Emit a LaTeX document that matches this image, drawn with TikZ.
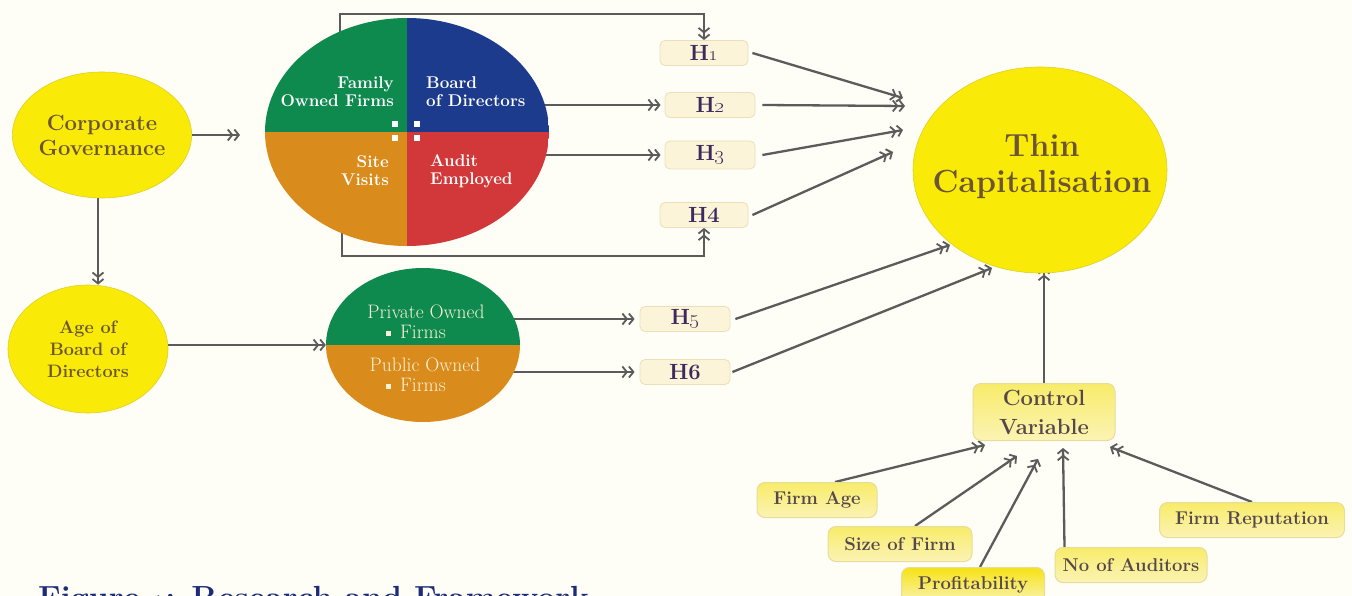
\documentclass[tikz,border=0pt]{standalone}
\usetikzlibrary{arrows.meta,shapes.geometric,backgrounds}
\definecolor{bgc}{HTML}{FEFEF7}
\definecolor{yel}{HTML}{F9EA07}
\definecolor{yelb}{HTML}{E0CF2A}
\definecolor{brn}{HTML}{6B5535}
\definecolor{qgreen}{HTML}{0F8A4F}
\definecolor{qblue}{HTML}{1D3B8D}
\definecolor{qorange}{HTML}{D98B1C}
\definecolor{qred}{HTML}{D2383A}
\definecolor{hfill}{HTML}{FCF4D8}
\definecolor{hdraw}{HTML}{EADFB8}
\definecolor{htext}{HTML}{3B2A5C}
\definecolor{lineg}{HTML}{5B5B5B}
\definecolor{cvtop}{HTML}{F8EC6A}
\definecolor{cvbot}{HTML}{FBF3B4}
\definecolor{prtop}{HTML}{F6E214}
\definecolor{cvdraw}{HTML}{E8DC9A}
\definecolor{cvtext}{HTML}{56474A}
\definecolor{titleblue}{HTML}{1E2C78}
\definecolor{owntext}{HTML}{F8F2D6}
\tikzset{
  dbl/.tip={Straight Barb[length=4.5pt,width=11pt,line width=1.8pt] Straight Barb[length=4.5pt,width=11pt,line width=1.8pt]},
  conn/.style={draw=lineg, line width=2.3pt, -{dbl}},
  yellipse/.style={ellipse, fill=yel, draw=yelb, line width=0.6pt, text=brn, align=center, inner sep=0pt},
  hbox/.style={rounded corners=5pt, fill=hfill, draw=hdraw, line width=0.8pt, text=htext,
    minimum height=25pt, font=\fontsize{22}{24}\selectfont\bfseries, inner sep=0pt},
  cvbox/.style={rounded corners=8pt, top color=cvtop, bottom color=cvbot, draw=cvdraw, line width=1pt,
    text=cvtext, font=\fontsize{18.5}{20}\selectfont\bfseries, inner sep=0pt, minimum height=35pt},
  qtext/.style={text=white, font=\fontsize{17}{18}\selectfont\bfseries, inner sep=0pt},
  otext/.style={text=owntext, font=\fontsize{19.5}{20}\selectfont, inner sep=0pt},
}
\begin{document}
\begin{tikzpicture}[x=1pt,y=-1pt]
\useasboundingbox (0,0) rectangle (1352,596);
\clip (0,0) rectangle (1352,596);

% ---------- nodes ----------
\node[yellipse, minimum width=158pt, minimum height=126pt, font=\fontsize{22}{25}\selectfont\bfseries] (cg) at (102,135) {Corporate\\Governance};
\node[yellipse, minimum width=160pt, minimum height=128pt, font=\fontsize{18}{22}\selectfont\bfseries] (abd) at (88,349) {Age of\\Board of\\Directors};

\node[ellipse, minimum width=284pt, minimum height=228pt, inner sep=0pt,
  path picture={
    \fill[qgreen] (path picture bounding box.north west) rectangle (path picture bounding box.center);
    \fill[qblue] (path picture bounding box.north east) rectangle (path picture bounding box.center);
    \fill[qorange] (path picture bounding box.south west) rectangle (path picture bounding box.center);
    \fill[qred] (path picture bounding box.south east) rectangle (path picture bounding box.center);
  }] (quad) at (407,132) {};
\node[qtext, anchor=east, align=right] (fam) at (394,92) {Family\\Owned Firms};
\node[qtext, anchor=west, align=left] (bod) at (426,92) {Board\\of Directors};
\node[qtext, anchor=east, align=right] (site) at (389,171) {Site\\Visits};
\node[qtext, anchor=west, align=left] (aud) at (430,171) {Audit\\Employed};
\fill[white] (392,121) rectangle +(6,6);
\fill[white] (414,121) rectangle +(6,6);
\fill[white] (392,135) rectangle +(6,6);
\fill[white] (414,135) rectangle +(6,6);

\node[ellipse, minimum width=194pt, minimum height=154pt, inner sep=0pt,
  path picture={
    \fill[qgreen] (path picture bounding box.north west) rectangle (path picture bounding box.east);
    \fill[qorange] (path picture bounding box.south west) rectangle (path picture bounding box.east);
  }] (own) at (423,345) {};
\node[otext] (priv1) at (426,312) {Private Owned};
\node[otext] (priv2) at (416,332) {\raisebox{3pt}{\rule{5pt}{5pt}}\hspace{9pt}Firms};
\node[otext] (pub1) at (425,365) {Public Owned};
\node[otext] (pub2) at (416,385) {\raisebox{3pt}{\rule{5pt}{5pt}}\hspace{9pt}Firms};

\node[hbox, minimum width=88pt] (h1) at (704,53) {H\oldstylenums{1}};
\node[hbox, minimum width=90pt] (h2) at (710,105) {H\oldstylenums{2}};
\node[hbox, minimum width=90pt, minimum height=28pt] (h3) at (710,155) {H\oldstylenums{3}};
\node[hbox, minimum width=88pt] (h4) at (704,215) {H4};
\node[hbox, minimum width=90pt] (h5) at (685,319) {H\oldstylenums{5}};
\node[hbox, minimum width=90pt] (h6) at (685,372) {H6};

\node[yellipse, minimum width=254pt, minimum height=206pt] (tc) at (1040,170) {};
\node[text=brn, align=center, inner sep=0pt, font=\fontsize{32}{36}\selectfont\bfseries] (tclab) at (1042,167) {Thin\\Capitalisation};

\node[cvbox, minimum width=142pt, minimum height=57pt, font=\fontsize{22}{29}\selectfont\bfseries, align=center] (cv) at (1044,412) {Control\\Variable};
\node[cvbox, minimum width=120pt] (fa) at (817,500) {Firm Age};
\node[cvbox, minimum width=144pt] (sf) at (900,544) {Size of Firm};
\node[cvbox, minimum width=143pt, top color=prtop] (pr) at (973,585) {Profitability};
\node[cvbox, minimum width=152pt] (na) at (1131,565) {No of Auditors};
\node[cvbox, minimum width=185pt] (fr) at (1252,520) {Firm Reputation};

\node[anchor=base west, text=titleblue, font=\fontsize{32}{36}\selectfont\bfseries, inner sep=0pt] (title) at (38,608) {Figure \oldstylenums{1}: Research and Framework};

% ---------- coordinates ----------
\coordinate (cgtip) at (240,135);
\coordinate (bt) at (340,14);
\coordinate (bb) at (342,256);
\coordinate (t1) at (903,98);
\coordinate (t2) at (905,106);
\coordinate (t3) at (903,130);
\coordinate (t4) at (893,152);
\coordinate (t5) at (950,245);
\coordinate (t6) at (992,268);
\coordinate (t7) at (1044,268);
\coordinate (c1) at (985,445);
\coordinate (c2) at (1017,456);
\coordinate (c3) at (1038,459);
\coordinate (c4) at (1063,448);
\coordinate (c5) at (1110,447);

% ---------- connectors ----------
\begin{pgfonlayer}{background}
\fill[bgc] (0,0) rectangle (1352,596);
\draw[conn] (cg.east) -- (cgtip);
\draw[conn] ([xshift=-4pt]cg.south) -- ([xshift=-4pt]cg.south |- abd.north);
\draw[conn] (abd.east |- own.west) -- (own.west);
\draw[conn] (quad.center |- h2.west) -- ([xshift=-4pt]h2.west);
\draw[conn] (quad.center |- h3.west) -- ([xshift=-4pt]h3.west);
\draw[conn] (bt |- quad.center) -- (bt) -| (h1.north);
\draw[conn] (bb |- quad.center) -- (bb) -| (h4.south);
\draw[conn] (own.center |- h5.west) -- ([xshift=-5pt]h5.west);
\draw[conn] (own.center |- h6.west) -- ([xshift=-5pt]h6.west);
\draw[conn] ([xshift=4pt]h1.east) -- (t1);
\draw[conn] ([xshift=7pt]h2.east) -- (t2);
\draw[conn] ([xshift=7pt]h3.east) -- (t3);
\draw[conn] ([xshift=4pt]h4.east) -- (t4);
\draw[conn] ([xshift=5pt]h5.east) -- (t5);
\draw[conn] ([xshift=2pt]h6.east) -- (t6);
\draw[conn] (cv.north) -- (t7);
\draw[conn] ([xshift=18pt]fa.north) -- (c1);
\draw[conn] ([xshift=15pt]sf.north) -- (c2);
\draw[conn] ([xshift=7pt]pr.north) -- (c3);
\draw[conn] ([xshift=10pt]na.north west) -- (c4);
\draw[conn] (fr.north) -- (c5);
\end{pgfonlayer}
\end{tikzpicture}
\end{document}
